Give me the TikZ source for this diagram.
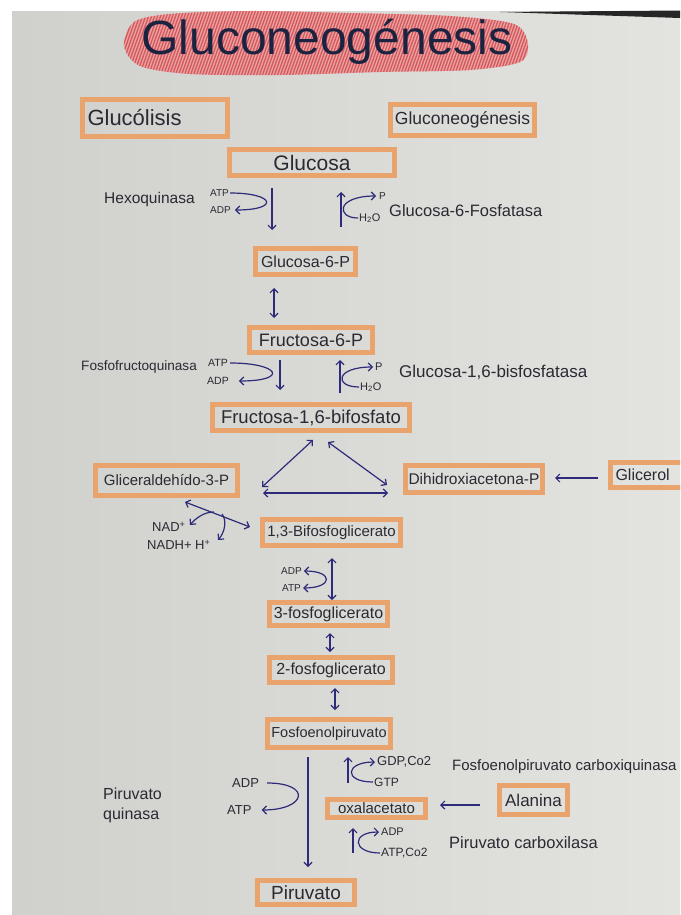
\documentclass[tikz,border=0pt]{standalone}
\usepackage{fontspec}
\setmainfont{Liberation Sans}
\usetikzlibrary{arrows.meta}
\definecolor{ink}{HTML}{2A2A33}
\definecolor{pen}{HTML}{2E2B7A}
\definecolor{boxorange}{HTML}{E9A36C}
\definecolor{paperL}{HTML}{D0D0CD}
\definecolor{paperR}{HTML}{E3E3E0}
\definecolor{titleink}{HTML}{1C2340}
\definecolor{hatchfill}{HTML}{E9A4A2}
\definecolor{hatchline}{HTML}{CF3E46}
\newcommand{\txtsize}[1]{\fontsize{#1}{#1}\selectfont}

\begin{document}
\begin{tikzpicture}[x=1pt,y=-1pt,
  box/.style={draw=boxorange, line width=5pt, inner sep=0pt, text=ink},
  lbl/.style={text=ink, inner sep=0pt},
  link/.style={draw=pen, line width=1.2pt},
  arr/.style={link, -{Straight Barb[length=4pt,width=8pt]}},
  darr/.style={link, {Straight Barb[length=4pt,width=8pt]}-{Straight Barb[length=4pt,width=8pt]}}]
\useasboundingbox (0,0) rectangle (680,915);
\clip (0,0) rectangle (680,915);

% sheet of paper
\fill[white] (0,0) rectangle (680,915);
\shade[left color=paperL, right color=paperR] (12,12) rectangle (680,915);
\fill[black!85] (500,12) -- (680,10.5) -- (680,18) -- cycle;

% coloured-pencil hatching behind the heading
\begin{scope}
  \path[clip] plot[smooth cycle] coordinates {(124,46) (134,22) (170,14) (250,11) (350,13) (450,16) (514,24) (528,44) (520,62) (470,70) (380,72) (280,75) (190,74) (140,66)};
  \fill[hatchfill] (100,0) rectangle (560,90);
  \foreach \i in {80,83,...,560} \draw[hatchline, line width=1.3pt, opacity=0.75] (\i,82) -- (\i+28,4);
\end{scope}
\node[text=titleink, inner sep=0pt, anchor=base, font=\txtsize{48}] (title) at (327,55) {Gluconeogénesis};

% metabolites
\node[box, minimum width=145pt, minimum height=37pt, text width=135pt, align=left, font=\txtsize{22}] (glucolisis) at (155,118) {Glucólisis};
\node[box, minimum width=144pt, minimum height=31pt, font=\txtsize{17.5}] (gngbox) at (462.5,120) {Gluconeogénesis};
\node[box, minimum width=165pt, minimum height=26pt, font=\txtsize{21}] (glucosa) at (312,162.5) {Glucosa};
\node[box, minimum width=100pt, minimum height=26pt, font=\txtsize{16}] (g6p) at (305.5,261.5) {Glucosa-6-P};
\node[box, minimum width=123pt, minimum height=25pt, font=\txtsize{18}] (f6p) at (311,340) {Fructosa-6-P};
\node[box, minimum width=197pt, minimum height=26pt, font=\txtsize{18.5}] (f16bp) at (311,417.5) {Fructosa-1,6-bifosfato};
\node[box, minimum width=142pt, minimum height=30pt, font=\txtsize{15}] (gap) at (166.5,480.5) {Gliceraldehído-3-P};
\node[box, minimum width=137pt, minimum height=27pt, font=\txtsize{15.5}] (dhap) at (474,479) {Dihidroxiacetona-P};
\node[box, minimum width=79pt, minimum height=25pt, text width=69pt, align=left, font=\txtsize{16}] (glicerol) at (650,475) {Glicerol};
\node[box, minimum width=138pt, minimum height=26pt, font=\txtsize{15}] (bpg) at (331.5,532.5) {1,3-Bifosfoglicerato};
\node[box, minimum width=118pt, minimum height=23pt, font=\txtsize{16}] (pg3) at (328.5,614) {3-fosfoglicerato};
\node[box, minimum width=123pt, minimum height=25pt, font=\txtsize{16}] (pg2) at (331,670) {2-fosfoglicerato};
\node[box, minimum width=123pt, minimum height=28pt, font=\txtsize{14.5}] (pep) at (329,733.5) {Fosfoenolpiruvato};
\node[box, minimum width=98pt, minimum height=18pt, font=\txtsize{15}] (oaa) at (376.5,808.5) {oxalacetato};
\node[box, minimum width=68pt, minimum height=29pt, font=\txtsize{17}] (alanina) at (533.5,800) {Alanina};
\node[box, minimum width=97pt, minimum height=24pt, font=\txtsize{19}] (piruvato) at (306,892.5) {Piruvato};

% enzymes and cofactors
\node[lbl, font=\txtsize{15.5}, anchor=west] (hk) at (104,199) {Hexoquinasa};
\node[lbl, font=\txtsize{10}, anchor=west] (atp1) at (210,193) {ATP};
\node[lbl, font=\txtsize{10}, anchor=west] (adp1) at (210,210) {ADP};
\node[lbl, font=\txtsize{10}, anchor=west] (p1) at (379,196) {P};
\node[lbl, font=\txtsize{11}, anchor=west] (h2o1) at (359,218) {H\textsubscript{2}O};
\node[lbl, font=\txtsize{16.5}, anchor=west] (g6pase) at (389,211) {Glucosa-6-Fosfatasa};
\node[lbl, font=\txtsize{13.6}, anchor=west] (pfk) at (81,367) {Fosfofructoquinasa};
\node[lbl, font=\txtsize{10.5}, anchor=west] (atp2) at (208,363) {ATP};
\node[lbl, font=\txtsize{10.5}, anchor=west] (adp2) at (207,381) {ADP};
\node[lbl, font=\txtsize{11}, anchor=west] (p2) at (375,367) {P};
\node[lbl, font=\txtsize{11}, anchor=west] (h2o2) at (360,387) {H\textsubscript{2}O};
\node[lbl, font=\txtsize{17}, anchor=west] (fbpase) at (399,372) {Glucosa-1,6-bisfosfatasa};
\node[lbl, font=\txtsize{13}, anchor=west] (nadp) at (152,527) {NAD\textsuperscript{+}};
\node[lbl, font=\txtsize{13}, anchor=west] (nadh) at (147,545) {NADH+ H\textsuperscript{+}};
\node[lbl, font=\txtsize{10}, anchor=west] (adp3) at (281,571) {ADP};
\node[lbl, font=\txtsize{10}, anchor=west] (atp3) at (282,588) {ATP};
\node[lbl, font=\txtsize{13}, anchor=west] (adp4) at (232,783) {ADP};
\node[lbl, font=\txtsize{13}, anchor=west] (atp4) at (227,810) {ATP};
\node[lbl, font=\fontsize{16}{20}\selectfont, anchor=west, align=left] (pk) at (103,805) {Piruvato\\quinasa};
\node[lbl, font=\txtsize{13}, anchor=west] (gdp) at (377,762) {GDP,Co2};
\node[lbl, font=\txtsize{12}, anchor=west] (gtp) at (374,782) {GTP};
\node[lbl, font=\txtsize{15}, anchor=west] (pepck) at (452,767) {Fosfoenolpiruvato carboxiquinasa};
\node[lbl, font=\txtsize{11}, anchor=west] (adp5) at (381,832) {ADP};
\node[lbl, font=\txtsize{12}, anchor=west] (atp5) at (381,853) {ATP,Co2};
\node[lbl, font=\txtsize{16.5}, anchor=west] (pc) at (449,843) {Piruvato carboxilasa};

% arrow end points
\coordinate (hkA) at (272,188);   \coordinate (hkB) at (272,230);
\coordinate (gpA) at (341,227);   \coordinate (gpB) at (341,192);
\coordinate (isoA) at (274,288);  \coordinate (isoB) at (274,318);
\coordinate (pfkA) at (280,360);  \coordinate (pfkB) at (280,390);
\coordinate (fbA) at (340,393);   \coordinate (fbB) at (340,360);
\coordinate (aldL1) at (313,440); \coordinate (aldL2) at (262,487);
\coordinate (aldR1) at (328,442); \coordinate (aldR2) at (387,485);
\coordinate (tpiA) at (263,493);  \coordinate (tpiB) at (388,493);
\coordinate (gkA) at (598,478);   \coordinate (gkB) at (555,478);
\coordinate (gdhA) at (185,502);  \coordinate (gdhB) at (250,527);
\coordinate (nadJ) at (214,512);  \coordinate (nadT) at (190,525);
\coordinate (nadhJ) at (222,514); \coordinate (nadhT) at (218,540);
\coordinate (pgkA) at (332,558);  \coordinate (pgkB) at (332,600);
\coordinate (pgmA) at (330,633);  \coordinate (pgmB) at (330,652);
\coordinate (enoA) at (335,688);  \coordinate (enoB) at (335,710);
\coordinate (pkA) at (308,757);   \coordinate (pkB) at (308,867);
\coordinate (pckA) at (348,783);  \coordinate (pckB) at (348,757);
\coordinate (pcA) at (353,853);   \coordinate (pcB) at (353,828);
\coordinate (alaA) at (480,805);  \coordinate (alaB) at (440,805);

% glucose / glucose-6-P
\draw[arr] (hkA) -- (hkB);
\draw[arr] ([xshift=1pt]atp1.east) .. controls +(45,0) and +(45,0) .. ([xshift=4pt]adp1.east);
\draw[arr] (gpA) -- (gpB);
\draw[arr] ([xshift=-1pt]h2o1.west) .. controls +(-22,0) and +(-40,0) .. ([xshift=-3pt]p1.west);
\draw[darr] (isoA) -- (isoB);

% fructose-6-P / fructose-1,6-bisphosphate
\draw[arr] (pfkA) -- (pfkB);
\draw[arr] ([xshift=2pt]atp2.east) .. controls +(50,0) and +(50,0) .. ([xshift=10pt]adp2.east);
\draw[arr] (fbA) -- (fbB);
\draw[arr] ([xshift=-1pt]h2o2.west) .. controls +(-25,0) and +(-38,0) .. ([xshift=-2pt]p2.west);

% triose phosphates
\draw[darr] (aldL1) -- (aldL2);
\draw[darr] (aldR1) -- (aldR2);
\draw[darr] (tpiA) -- (tpiB);
\draw[arr] (gkA) -- (gkB);

% glyceraldehyde-3-P dehydrogenase
\draw[darr] (gdhA) -- (gdhB);
\draw[arr] (nadJ) .. controls (204,512) and (196,518) .. (nadT);
\draw[arr] (nadhJ) .. controls (227,520) and (225,532) .. (nadhT);

% phosphoglycerate kinase, mutase, enolase
\draw[darr] (pgkA) -- (pgkB);
\draw[darr] ([xshift=2pt]adp3.east) .. controls +(30,0) and +(30,0) .. ([xshift=2pt]atp3.east);
\draw[darr] (pgmA) -- (pgmB);
\draw[darr] (enoA) -- (enoB);

% pyruvate kinase
\draw[arr] (pkA) -- (pkB);
\draw[arr] ([xshift=8pt]adp4.east) .. controls +(45,0) and +(45,0) .. ([xshift=10pt]atp4.east);

% bypass through oxaloacetate
\draw[arr] (pckA) -- (pckB);
\draw[arr] ([xshift=-1pt]gtp.west) .. controls +(-30,0) and +(-30,0) .. ([xshift=-2pt]gdp.west);
\draw[arr] (pcA) -- (pcB);
\draw[arr] ([xshift=-1pt]atp5.west) .. controls +(-28,0) and +(-28,0) .. ([xshift=-2pt]adp5.west);
\draw[arr] (alaA) -- (alaB);
\end{tikzpicture}
\end{document}
